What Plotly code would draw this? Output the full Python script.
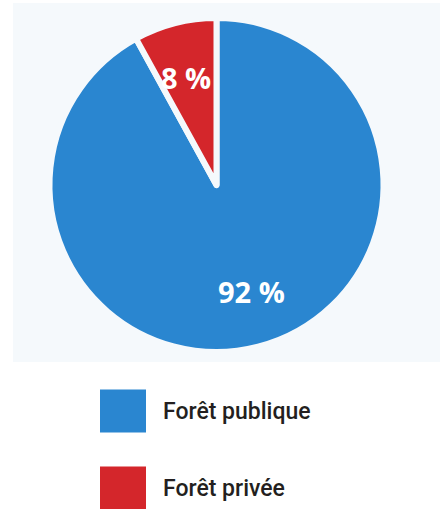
import plotly.graph_objects as go

# donnees
categories = ["Forêt publique", "Forêt privée"]
valeurs = [92, 8]
couleurs = ["#2a86d0", "#d4262b"]

W, H = 446, 509
fond = "#f5f9fc"

fig = go.Figure()

fig.add_trace(go.Pie(
    labels=categories,
    values=valeurs,
    marker=dict(colors=couleurs, line=dict(color=fond, width=6)),
    sort=False,
    direction="clockwise",
    rotation=0,
    textinfo="none",
    hoverinfo="label+percent",
    showlegend=False,
    domain=dict(x=[49.5 / W, 383.5 / W], y=[1 - 352 / H, 1 - 18 / H]),
))

# fond gris clair du graphique
fig.add_shape(type="rect", xref="paper", yref="paper",
              x0=13 / W, x1=440 / W, y0=1 - 362 / H, y1=1 - 3 / H,
              fillcolor=fond, line_width=0, layer="below")

# etiquettes en pourcentage
pos_pct = [(252, 291), (186, 56)]
for v, (px_, py_) in zip(valeurs, pos_pct):
    fig.add_annotation(x=px_ / W, y=1 - py_ / H, xref="paper", yref="paper",
                       text=f"{v} %", showarrow=False,
                       font=dict(family="Open Sans", size=29, color="white", weight="bold"))

# legende faite a la main (carres + texte)
pos_leg = [411, 488]
for cat, col, cy in zip(categories, couleurs, pos_leg):
    fig.add_shape(type="rect", xref="paper", yref="paper",
                  x0=100 / W, x1=146 / W, y0=1 - (cy + 21.5) / H, y1=1 - (cy - 21.5) / H,
                  fillcolor=col, line_width=0)
    fig.add_annotation(x=161 / W, y=1 - cy / H, xref="paper", yref="paper",
                       text=cat, showarrow=False, xanchor="left", yanchor="middle",
                       font=dict(family="Roboto", size=23, color="#231f20", weight=500))

fig.update_layout(width=W, height=H, margin=dict(l=0, r=0, t=0, b=0),
                  paper_bgcolor="white", plot_bgcolor="white")

# pas de marge autour du graphique dans la page
fig.write_html("out.html", config={"displayModeBar": False},
               post_script="document.body.style.margin='0';")
